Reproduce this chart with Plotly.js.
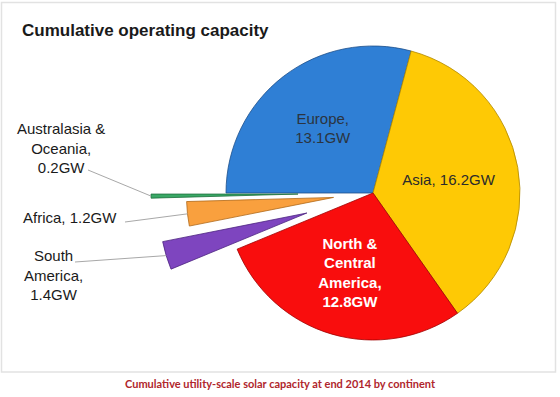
<!DOCTYPE html>
<html><head><meta charset="utf-8">
<script src="https://cdn.plot.ly/plotly-3.0.1.min.js"></script>
<style>
html,body{margin:0;padding:0;width:560px;height:397px;overflow:hidden;background:#fff;}
#chart{position:absolute;left:0;top:-40px;width:610px;height:460px;}
</style></head><body><div id="chart"></div>
<script>
// ---- data ----
const categories = ["Europe", "Asia", "North & Central America", "South America", "Africa", "Australasia & Oceania"];
const capacityGW = [13.1, 16.2, 12.8, 1.4, 1.2, 0.2];
const labelPrefix = ["Europe,<br>", "Asia, ", "North &<br>Central<br>America,<br>", "South<br>America,<br>", "Africa, ", "Australasia &<br>Oceania,<br>"];
const pullOut = [0, 0, 0, 0.47, 0.27, 0.51];
const chartTitle = "Cumulative operating capacity";
const footnote = "Cumulative utility-scale solar capacity at end 2014 by continent";

// ---- styles / layout ----
const fill = ["#2f7fd5", "#fec905", "#f90d0d", "#7e45bf", "#f9a03e", "#3aa866"];
const edge = ["#1d4f8a", "#b08800", "#a00000", "#4d2580", "#b06a1a", "#1e6e3e"];
const W = 610, H = 460, OFF = 40;
const fx = x => x / W;
const fy = y => 1 - (y + OFF) / H;
const CX = 373, CY = 193, R = 147, ROT = 270;
const isOut = pullOut.map(p => p > 0);
const maxPull = Math.max(...pullOut);
const RB = R * (1 + maxPull);
const FONT = "Liberation Sans, Arial, Helvetica, sans-serif";

const mainTrace = {
  type: "pie", values: capacityGW, labels: categories, sort: false,
  direction: "clockwise", rotation: ROT, showlegend: false, hoverinfo: "label+value",
  domain: {x: [fx(CX - R), fx(CX + R)], y: [fy(CY + R), fy(CY - R)]},
  marker: {colors: fill.map((c, i) => isOut[i] ? "rgba(0,0,0,0)" : c),
           line: {color: edge.map((c, i) => isOut[i] ? "rgba(0,0,0,0)" : c), width: 0.8}},
  text: labelPrefix,
  texttemplate: categories.map((c, i) => isOut[i] ? "" : (i === 2 ? "<b>%{text}%{value:.1f}GW</b>" : "%{text}%{value:.1f}GW")),
  textposition: "inside", insidetextorientation: "horizontal",
  textfont: {family: FONT, size: 15, color: ["#2b3440", "#2b2b2b", "#ffffff", "#000", "#000", "#000"]}
};
const outTrace = {
  type: "pie", values: capacityGW, labels: categories, sort: false,
  direction: "clockwise", rotation: ROT, showlegend: false, hoverinfo: "label+value",
  domain: {x: [fx(CX - RB), fx(CX + RB)], y: [fy(CY + RB), fy(CY - RB)]},
  pull: pullOut,
  marker: {colors: fill.map((c, i) => isOut[i] ? c : "rgba(0,0,0,0)"),
           line: {color: edge.map((c, i) => isOut[i] ? c : "rgba(0,0,0,0)"), width: 0.8}},
  textinfo: "none"
};

// outer tips of the pulled slices (from the values' angles)
const total = capacityGW.reduce((a, b) => a + b, 0);
let cum = 0;
const tips = capacityGW.map((v, i) => {
  const mid = (ROT + (cum + v / 2) / total * 360) * Math.PI / 180;
  cum += v;
  const d = R * (1 + pullOut[i]);
  return [CX + d * Math.sin(mid), CY - d * Math.cos(mid)];
});

// label placements for the pulled slices (layout)
const outLabelPos = {3: [53, 275], 4: [70, 217], 5: [61, 148]};
const leaderStart = {3: [75, 262], 4: [125, 222], 5: [88, 170]};

const annotations = [];
const shapes = [{type: "rect", xref: "paper", yref: "paper", x0: fx(1.5), x1: fx(555.5), y0: fy(372), y1: fy(2.5),
  line: {color: "#e2e2e2", width: 1.5}, fillcolor: "rgba(0,0,0,0)", layer: "below"}];
capacityGW.forEach((v, i) => {
  if (!isOut[i]) return;
  const p = outLabelPos[i];
  annotations.push({xref: "paper", yref: "paper", x: fx(p[0]), y: fy(p[1]), xanchor: "center", yanchor: "middle",
    text: labelPrefix[i] + v.toFixed(1) + "GW", showarrow: false, align: "center",
    font: {family: FONT, size: 15, color: "#1a1a1a"}});
  const s = leaderStart[i], t = tips[i];
  shapes.push({type: "line", xref: "paper", yref: "paper", x0: fx(s[0]), y0: fy(s[1]), x1: fx(t[0]), y1: fy(t[1]),
    line: {color: "#a8a8a8", width: 1}});
});
annotations.push({xref: "paper", yref: "paper", x: fx(280), y: fy(383), xanchor: "center", yanchor: "middle",
  text: "<b>" + footnote + "</b>", showarrow: false, font: {family: "Lato, Open Sans, sans-serif", size: 11, color: "#b0262c"}});

const layout = {
  width: W, height: H, margin: {l: 0, r: 0, t: 0, b: 0},
  paper_bgcolor: "#ffffff", plot_bgcolor: "#ffffff",
  title: {text: "<b>" + chartTitle + "</b>", xref: "container", yref: "container", x: 22 / W, y: 1 - (30 + OFF) / H,
    xanchor: "left", yanchor: "middle", font: {family: FONT, size: 17, color: "#1a1a1a"}},
  annotations: annotations, shapes: shapes
};
Plotly.newPlot("chart", [mainTrace, outTrace], layout, {displayModeBar: false, staticPlot: true});
</script></body></html>
